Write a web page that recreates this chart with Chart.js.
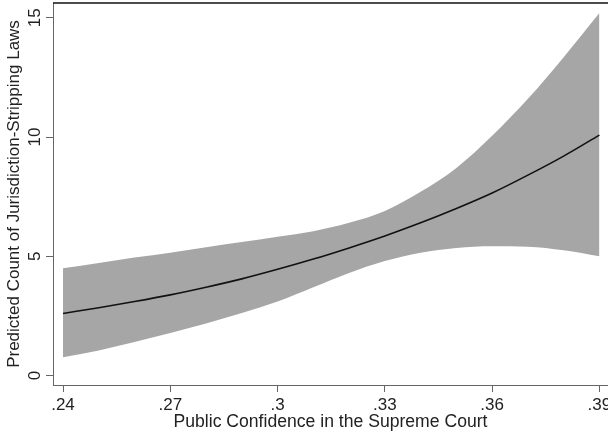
<!DOCTYPE html>
<html>
<head>
<meta charset="utf-8">
<script src="https://cdn.jsdelivr.net/npm/chart.js@4.4.1/dist/chart.umd.min.js"></script>
<style>
html,body{margin:0;padding:0;background:#fff;}
#wrap{width:608px;height:436px;position:relative;}
</style>
</head>
<body>
<div id="wrap"><canvas id="predChart"></canvas></div>
<script>
// public confidence values (x)
let confidence = [0.24,0.25,0.26,0.27,0.28,0.29,0.30,0.31,0.32,0.33,0.34,0.35,0.36,0.37,0.38,0.39];
// predicted count and 95% band
let predicted = [2.60,2.84,3.10,3.38,3.70,4.05,4.45,4.88,5.35,5.85,6.40,7.00,7.65,8.40,9.20,10.08];
let upperCI = [4.50,4.72,4.95,5.15,5.38,5.60,5.82,6.05,6.40,6.90,7.70,8.70,10.05,11.60,13.35,15.20];
let lowerCI = [0.76,1.05,1.40,1.78,2.18,2.62,3.10,3.70,4.30,4.80,5.15,5.35,5.42,5.40,5.25,5.00];
let xTicks = [0.24,0.27,0.30,0.33,0.36,0.39];
let xTickLabels = [".24",".27",".3",".33",".36",".39"];
let yTicks = [0,5,10,15];

function pts(vals){
return confidence.map(function(c,i){ return {x:c, y:vals[i]}; });
}

const FONT = "'Liberation Sans', Arial, Helvetica, sans-serif";

// draws rotated y tick labels and the top frame line
const stataBits = {
id:'stataBits',
afterDraw(chart){
let ctx = chart.ctx;
let ys = chart.scales.y;
let area = chart.chartArea;
ctx.save();
ctx.fillStyle = '#222';
ctx.font = '17px ' + FONT;
ctx.textAlign = 'center';
ctx.textBaseline = 'middle';
yTicks.forEach(function(v){
let py = ys.getPixelForValue(v);
ctx.save();
ctx.translate(35, py);
ctx.rotate(-Math.PI/2);
ctx.fillText(String(v), 0, 0);
ctx.restore();
});
ctx.strokeStyle = '#111';
ctx.lineWidth = 1.5;
ctx.beginPath();
ctx.moveTo(area.left, area.top);
ctx.lineTo(chart.width, area.top);
ctx.stroke();
ctx.restore();
}
};

let ctx = document.getElementById("predChart").getContext("2d");

new Chart(ctx,{
type:'line',
data:{
datasets:[
{
label:'predicted',
data:pts(predicted),
borderColor:'#111',
borderWidth:1.6,
pointRadius:0,
fill:false,
cubicInterpolationMode:'monotone',
order:0
},
{
label:'upper',
data:pts(upperCI),
borderWidth:0,
borderColor:'rgba(0,0,0,0)',
pointRadius:0,
backgroundColor:'#a6a6a6',
fill:'+1',
cubicInterpolationMode:'monotone',
order:1
},
{
label:'lower',
data:pts(lowerCI),
borderWidth:0,
borderColor:'rgba(0,0,0,0)',
pointRadius:0,
backgroundColor:'#a6a6a6',
fill:false,
cubicInterpolationMode:'monotone',
order:1
}
]
},
options:{
responsive:true,
maintainAspectRatio:false,
animation:false,
layout:{padding:{top:3,right:0,left:0,bottom:0}},
plugins:{legend:{display:false},tooltip:{enabled:false}},
scales:{
x:{
type:'linear',
min:0.2372,
max:0.3924,
afterBuildTicks:function(scale){
scale.ticks = xTicks.map(function(v){ return {value:v}; });
},
afterFit:function(scale){
scale.height = 51;
scale.paddingLeft = 0;
scale.paddingRight = 0;
},
grid:{drawOnChartArea:false, drawTicks:true, tickLength:7, color:'#666'},
border:{display:true, color:'#666', width:1},
ticks:{
color:'#222',
font:{family:FONT, size:17},
padding:3,
maxRotation:0,
autoSkip:false,
callback:function(v){
let i = xTicks.findIndex(function(t){ return Math.abs(t-v) < 1e-9; });
return i >= 0 ? xTickLabels[i] : '';
}
},
title:{
display:true,
text:'Public Confidence in the Supreme Court',
color:'#222',
font:{family:FONT, size:17.6},
padding:{top:0,bottom:3}
}
},
y:{
min:-0.40,
max:15.62,
afterBuildTicks:function(scale){
scale.ticks = yTicks.map(function(v){ return {value:v}; });
},
afterFit:function(scale){
scale.width = 53;
scale.paddingTop = 0;
scale.paddingBottom = 0;
},
grid:{drawOnChartArea:false, drawTicks:true, tickLength:7, color:'#666'},
border:{display:true, color:'#666', width:1},
ticks:{display:false},
title:{
display:true,
text:'Predicted Count of Jurisdiction-Stripping Laws',
color:'#222',
font:{family:FONT, size:17},
padding:{top:4,bottom:0}
}
}
}
},
plugins:[stataBits]
});
</script>
</body>
</html>
